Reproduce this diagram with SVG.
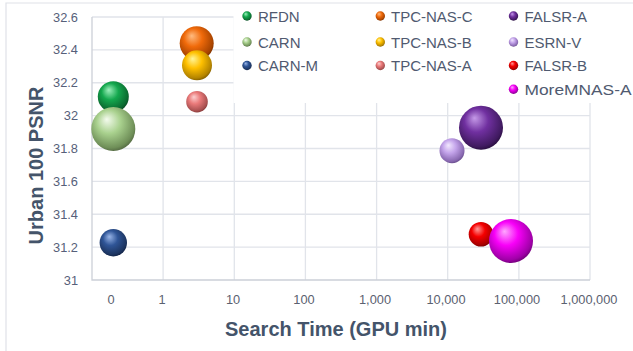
<svg xmlns="http://www.w3.org/2000/svg" width="633" height="351" viewBox="0 0 633 351">
<style>
.grid{stroke:#e1e4ea;stroke-width:1.3;fill:none}
.axis{stroke:#ccd0d8;stroke-width:1.3;fill:none}
.border{stroke:#dfe2e8;stroke-width:1.2;fill:none}
.ytick{font-family:"Liberation Sans",Arial,sans-serif;font-size:12.8px;fill:#56607a;text-anchor:end}
.xtick{font-family:"Liberation Sans",Arial,sans-serif;font-size:12.8px;fill:#5b6170;text-anchor:middle}
.title{font-family:"Liberation Sans",Arial,sans-serif;font-size:20px;font-weight:bold;fill:#44546a;text-anchor:middle}
.leg{font-family:"Liberation Sans",Arial,sans-serif;font-size:15px;fill:#505a70}
</style>
<defs>
<radialGradient id="gRFDN" cx="0.45" cy="0.4" r="0.6" fx="0.35" fy="0.28"><stop offset="0" stop-color="#9ff0bd"/><stop offset="0.45" stop-color="#14a84e"/><stop offset="0.9" stop-color="#0b6a30"/><stop offset="1" stop-color="#0a4f25"/></radialGradient>
<radialGradient id="gCARN" cx="0.45" cy="0.4" r="0.6" fx="0.35" fy="0.28"><stop offset="0" stop-color="#f4fbee"/><stop offset="0.45" stop-color="#a9d18e"/><stop offset="0.9" stop-color="#6f8f58"/><stop offset="1" stop-color="#586f46"/></radialGradient>
<radialGradient id="gCARNM" cx="0.45" cy="0.4" r="0.6" fx="0.35" fy="0.28"><stop offset="0" stop-color="#9ab6e8"/><stop offset="0.45" stop-color="#2f5597"/><stop offset="0.9" stop-color="#1d3560"/><stop offset="1" stop-color="#14264a"/></radialGradient>
<radialGradient id="gTPCC" cx="0.45" cy="0.4" r="0.6" fx="0.35" fy="0.28"><stop offset="0" stop-color="#ffbb80"/><stop offset="0.45" stop-color="#f06a0a"/><stop offset="0.9" stop-color="#a84400"/><stop offset="1" stop-color="#803300"/></radialGradient>
<radialGradient id="gTPCB" cx="0.45" cy="0.4" r="0.6" fx="0.35" fy="0.28"><stop offset="0" stop-color="#fff59a"/><stop offset="0.45" stop-color="#ffc000"/><stop offset="0.9" stop-color="#b48400"/><stop offset="1" stop-color="#8a6400"/></radialGradient>
<radialGradient id="gTPCA" cx="0.45" cy="0.4" r="0.6" fx="0.35" fy="0.28"><stop offset="0" stop-color="#fcd0d0"/><stop offset="0.45" stop-color="#ea7a7a"/><stop offset="0.9" stop-color="#a85050"/><stop offset="1" stop-color="#8a3c3c"/></radialGradient>
<radialGradient id="gFALA" cx="0.45" cy="0.4" r="0.6" fx="0.35" fy="0.28"><stop offset="0" stop-color="#c59ae8"/><stop offset="0.45" stop-color="#7030a0"/><stop offset="0.9" stop-color="#401a60"/><stop offset="1" stop-color="#2c1044"/></radialGradient>
<radialGradient id="gESRN" cx="0.45" cy="0.4" r="0.6" fx="0.35" fy="0.28"><stop offset="0" stop-color="#f2e8ff"/><stop offset="0.45" stop-color="#c3a3ea"/><stop offset="0.9" stop-color="#8868b0"/><stop offset="1" stop-color="#6c5090"/></radialGradient>
<radialGradient id="gFALB" cx="0.45" cy="0.4" r="0.6" fx="0.35" fy="0.28"><stop offset="0" stop-color="#ff9a9a"/><stop offset="0.45" stop-color="#f50000"/><stop offset="0.9" stop-color="#a80000"/><stop offset="1" stop-color="#800000"/></radialGradient>
<radialGradient id="gMORE" cx="0.45" cy="0.4" r="0.6" fx="0.35" fy="0.28"><stop offset="0" stop-color="#ffa8ff"/><stop offset="0.45" stop-color="#f800f8"/><stop offset="0.9" stop-color="#a000a8"/><stop offset="1" stop-color="#780080"/></radialGradient>
</defs>
<rect width="633" height="351" fill="#ffffff"/>
<g id="gridlines">
<path class="grid" d="M92 17H590M92 49.9H590M92 82.75H590M92 115.6H590M92 148.5H590M92 181.4H590M92 214.25H590M92 247.1H590"/>
<path class="grid" d="M163.1 17V280M234.3 17V280M305.4 17V280M376.6 17V280M447.7 17V280M518.9 17V280M590 17V280"/>
<path class="axis" d="M92 17V280H590"/>
</g>
<rect id="legend-bg" x="233.5" y="0" width="400" height="103" fill="#ffffff"/>
<path class="border" d="M6 351V3H633"/>
<g id="yaxis-labels">
<text class="ytick" x="78" y="21.5">32.6</text>
<text class="ytick" x="78" y="54.4">32.4</text>
<text class="ytick" x="78" y="87.3">32.2</text>
<text class="ytick" x="78" y="120.1">32</text>
<text class="ytick" x="78" y="153">31.8</text>
<text class="ytick" x="78" y="185.9">31.6</text>
<text class="ytick" x="78" y="218.8">31.4</text>
<text class="ytick" x="78" y="251.6">31.2</text>
<text class="ytick" x="78" y="284.5">31</text>
</g>
<g id="xaxis-labels">
<text class="xtick" x="111" y="303.5">0</text>
<text class="xtick" x="162" y="303.5">1</text>
<text class="xtick" x="233" y="303.5">10</text>
<text class="xtick" x="304" y="303.5">100</text>
<text class="xtick" x="375" y="303.5">1,000</text>
<text class="xtick" x="446" y="303.5">10,000</text>
<text class="xtick" x="517" y="303.5">100,000</text>
<text class="xtick" x="589" y="303.5">1,000,000</text>
</g>
<text class="title" x="336" y="336">Search Time (GPU min)</text>
<text class="title" transform="translate(43,165.5) rotate(-90)">Urban 100 PSNR</text>
<g id="connectors"></g>
<g id="RFDN">
<circle cx="113.3" cy="96.7" r="15.5" fill="url(#gRFDN)"/>
<circle cx="247" cy="16" r="4.7" fill="url(#gRFDN)"/>
<text class="leg" x="258" y="21.5">RFDN</text>
</g>
<g id="CARN">
<circle cx="113.3" cy="129" r="22" fill="url(#gCARN)"/>
<circle cx="247" cy="42" r="4.7" fill="url(#gCARN)"/>
<text class="leg" x="258" y="47.5">CARN</text>
</g>
<g id="CARN-M">
<circle cx="113.3" cy="242.7" r="13.7" fill="url(#gCARNM)"/>
<circle cx="247" cy="65.5" r="4.7" fill="url(#gCARNM)"/>
<text class="leg" x="258" y="71">CARN-M</text>
</g>
<g id="TPC-NAS-C">
<circle cx="196.7" cy="43.3" r="17" fill="url(#gTPCC)"/>
<circle cx="380.3" cy="16" r="4.7" fill="url(#gTPCC)"/>
<text class="leg" x="391" y="21.5">TPC-NAS-C</text>
</g>
<g id="TPC-NAS-B">
<circle cx="197" cy="65.3" r="15" fill="url(#gTPCB)"/>
<circle cx="380.3" cy="42" r="4.7" fill="url(#gTPCB)"/>
<text class="leg" x="391" y="47.5">TPC-NAS-B</text>
</g>
<g id="TPC-NAS-A">
<circle cx="197" cy="101.7" r="10.8" fill="url(#gTPCA)"/>
<circle cx="380.3" cy="65.5" r="4.7" fill="url(#gTPCA)"/>
<text class="leg" x="391" y="71">TPC-NAS-A</text>
</g>
<g id="FALSR-A">
<circle cx="481" cy="127.7" r="22" fill="url(#gFALA)"/>
<circle cx="513.5" cy="16" r="4.7" fill="url(#gFALA)"/>
<text class="leg" x="524.5" y="21.5">FALSR-A</text>
</g>
<g id="ESRN-V">
<circle cx="452" cy="150.7" r="12.5" fill="url(#gESRN)"/>
<circle cx="513.5" cy="42" r="4.7" fill="url(#gESRN)"/>
<text class="leg" x="524.5" y="47.5">ESRN-V</text>
</g>
<g id="FALSR-B">
<circle cx="481" cy="234.3" r="12.3" fill="url(#gFALB)"/>
<circle cx="513.5" cy="65.5" r="4.7" fill="url(#gFALB)"/>
<text class="leg" x="524.5" y="71">FALSR-B</text>
</g>
<g id="MoreMNAS-A">
<circle cx="511" cy="241" r="22" fill="url(#gMORE)"/>
<circle cx="513.5" cy="89.3" r="4.7" fill="url(#gMORE)"/>
<text class="leg" x="524.5" y="94.8" textLength="107" lengthAdjust="spacingAndGlyphs">MoreMNAS-A</text>
</g>
</svg>
